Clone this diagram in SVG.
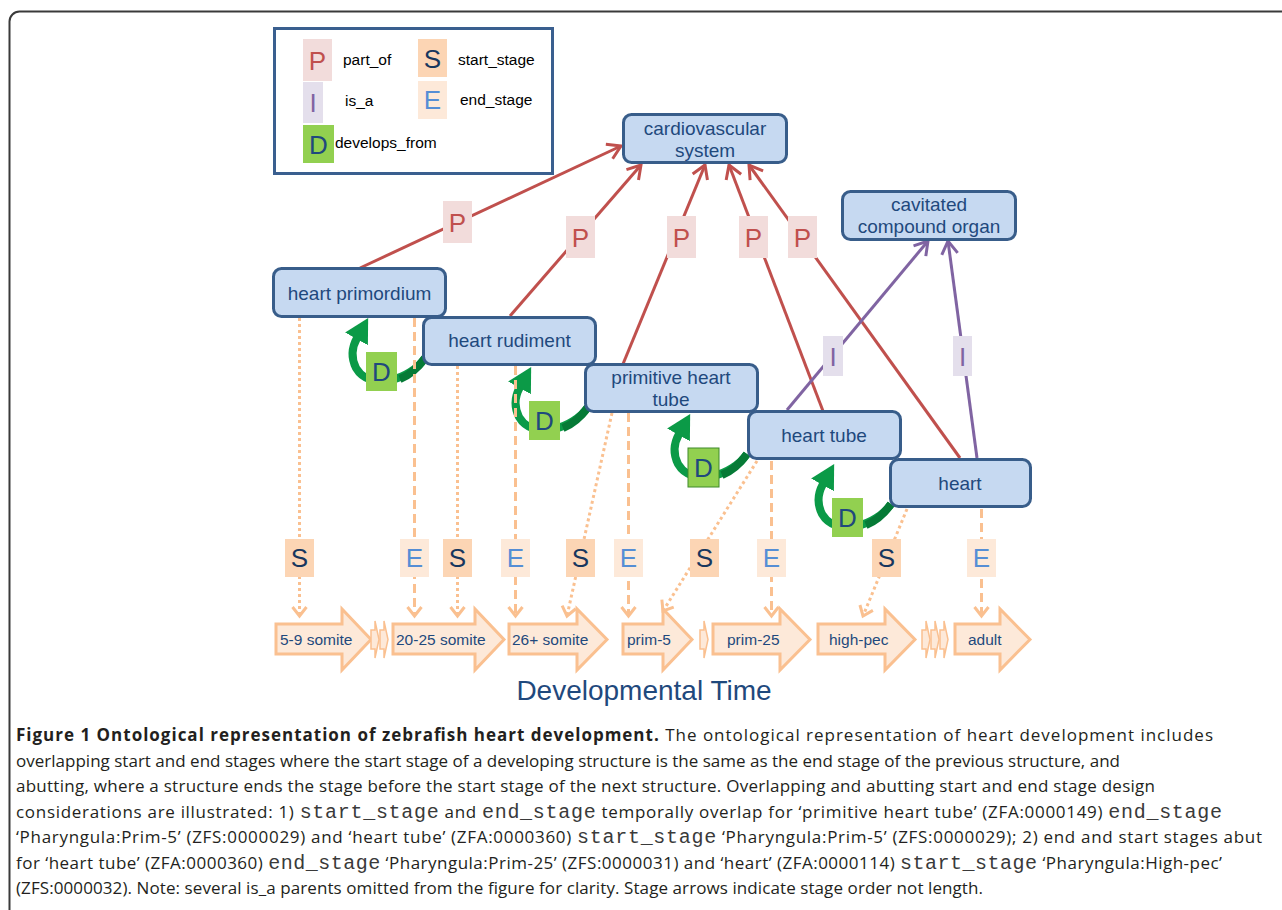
<svg xmlns="http://www.w3.org/2000/svg" width="1282" height="910" viewBox="0 0 1282 910">
<defs>
<style>
.sans{font-family:"Liberation Sans",Arial,sans-serif}
.node rect{fill:#c6d9f1;stroke:#385d8a;stroke-width:3}
.node text{font-family:"Liberation Sans",Arial,sans-serif;font-size:19px;fill:#1f497d;text-anchor:middle}
.po{stroke:#c0504d;stroke-width:3;fill:none;marker-end:url(#ar)}
.isa{stroke:#8064a2;stroke-width:3;fill:none;marker-end:url(#ap)}
.sl{stroke:#fac090;stroke-width:3;fill:none;stroke-dasharray:3 3;marker-end:url(#ao)}
.el{stroke:#fac090;stroke-width:3;fill:none;stroke-dasharray:9 5;marker-end:url(#ao)}
.dv{stroke:#0b9a47;stroke-width:8;fill:none;marker-end:url(#ag)}
.dvs{stroke:#067a36;stroke-width:8;fill:none}
.pb{fill:#f2dcdb}.pt{fill:#c0504d}
.ib{fill:#e4dfec}.it{fill:#8064a2}
.sb{fill:#fcd5b4}.st{fill:#17375e}
.eb{fill:#fde9d9}.et{fill:#558ed5}
.db{fill:#92d050}.dt{fill:#1f497d}
.let{font-family:"Liberation Sans",Arial,sans-serif;font-size:26px;text-anchor:middle}
.leg{font-family:"Liberation Sans",Arial,sans-serif;font-size:15.5px;fill:#000}
.stg polygon{fill:#fde9d9;stroke:#fac090;stroke-width:3}
.stg polygon.sm{stroke-width:1.5}
.stg text{font-family:"Liberation Sans",Arial,sans-serif;font-size:15.5px;fill:#1f497d}
.cap{font-family:"Open Sans","Noto Sans",sans-serif;font-size:17px;fill:#231f20}
.mono{font-family:"Liberation Mono",monospace;font-size:20px;fill:#3a3a3a}
</style>
<marker id="ar" markerUnits="userSpaceOnUse" markerWidth="22" markerHeight="24" viewBox="-17 -12 22 24" refX="0" refY="0" orient="auto"><polyline points="-13,-8 0,0 -13,8" fill="none" stroke="#c0504d" stroke-width="3"/></marker>
<marker id="ap" markerUnits="userSpaceOnUse" markerWidth="22" markerHeight="24" viewBox="-17 -12 22 24" refX="0" refY="0" orient="auto"><polyline points="-13,-8 0,0 -13,8" fill="none" stroke="#8064a2" stroke-width="3"/></marker>
<marker id="ao" markerUnits="userSpaceOnUse" markerWidth="16" markerHeight="20" viewBox="-12 -10 16 20" refX="0" refY="0" orient="auto"><polyline points="-9,-7 0,0 -9,7" fill="none" stroke="#fac090" stroke-width="3"/></marker>
<marker id="ag" markerUnits="userSpaceOnUse" markerWidth="25" markerHeight="28" viewBox="0 -14 25 28" refX="1" refY="0" orient="auto"><path d="M0,-13 L24,0 L0,13 z" fill="#0b9a47"/></marker>
</defs>
<rect x="9.5" y="11.5" width="1300" height="930" rx="10" fill="#fff" stroke="#3a3a3a" stroke-width="2"/>

<g id="legend">
<rect x="274.5" y="28.5" width="278" height="145" fill="#fff" stroke="#3a5f8f" stroke-width="3"/>
<rect class="pb" x="303" y="39" width="29" height="42"/><text class="let pt" x="317.5" y="70" font-size="27">P</text>
<text class="leg" x="343" y="65">part_of</text>
<rect class="ib" x="303" y="82" width="20" height="41"/><text class="let it" x="313" y="112" font-size="27">I</text>
<text class="leg" x="345" y="106">is_a</text>
<rect class="db" x="303" y="125" width="31" height="38"/><text class="let dt" x="318.5" y="154" font-size="27">D</text>
<text class="leg" x="335" y="148">develops_from</text>
<rect class="sb" x="418" y="39" width="29" height="38"/><text class="let st" x="432.5" y="68">S</text>
<text class="leg" x="458" y="65">start_stage</text>
<rect class="eb" x="418" y="81" width="29" height="38"/><text class="let et" x="432.5" y="109">E</text>
<text class="leg" x="460" y="105">end_stage</text>
</g>

<g id="stages" class="stg">
<polygon points="276,624 342,624 342,609 371,639.5 342,670 342,654 276,654"/>
<text x="280" y="645">5-9 somite</text>
<polygon class="sm" points="371,630 375,630 375,621 379,639.5 375,658 375,649 371,649"/>
<polygon class="sm" points="380,630 384,630 384,621 388,639.5 384,658 384,649 380,649"/>
<polygon points="393,624 475,624 475,609 504,639.5 475,670 475,654 393,654"/>
<text x="396" y="645">20-25 somite</text>
<polygon points="509,624 577,624 577,609 607,639.5 577,670 577,654 509,654"/>
<text x="512" y="645">26+ somite</text>
<polygon points="623,624 663,624 663,609 692,639.5 663,670 663,654 623,654"/>
<text x="627" y="645">prim-5</text>
<polygon class="sm" points="700,630 704,630 704,621 708,639.5 704,658 704,649 700,649"/>
<polygon points="713,624 780,624 780,609 810,639.5 780,670 780,654 713,654"/>
<text x="727" y="645">prim-25</text>
<polygon points="818,624 885,624 885,609 915,639.5 885,670 885,654 818,654"/>
<text x="829" y="645">high-pec</text>
<polygon class="sm" points="922,630 926,630 926,621 930,639.5 926,658 926,649 922,649"/>
<polygon class="sm" points="931,630 935,630 935,621 939,639.5 935,658 935,649 931,649"/>
<polygon class="sm" points="940,630 944,630 944,621 948,639.5 944,658 944,649 940,649"/>
<polygon points="955,624 1000,624 1000,609 1030,639.5 1000,670 1000,654 955,654"/>
<text x="968" y="645">adult</text>
</g>

<g id="connectors">
<path class="dv" d="M425,358 C410,380 370,392 356,368 C351,358 352,347 357,338"/>
<path class="dvs" d="M425,358 C418,368 410,375 400,379"/>
<g transform="translate(163,49)"><path class="dv" d="M425,358 C410,380 370,392 356,368 C351,358 352,347 357,338"/><path class="dvs" d="M425,358 C418,368 410,375 400,379"/></g>
<g transform="translate(322,96)"><path class="dv" d="M425,358 C410,380 370,392 356,368 C351,358 352,347 357,338"/><path class="dvs" d="M425,358 C418,368 410,375 400,379"/></g>
<g transform="translate(466,146)"><path class="dv" d="M425,358 C410,380 370,392 356,368 C351,358 352,347 357,338"/><path class="dvs" d="M425,358 C418,368 410,375 400,379"/></g>

<path class="sl" d="M299.5,318 L299.5,616"/>
<path class="el" d="M414.5,318 L414.5,616"/>
<path class="sl" d="M457.5,366 L457.5,616"/>
<path class="el" d="M515.5,366 L515.5,616"/>
<path class="sl" d="M612,413 L567,616"/>
<path class="el" d="M628.5,413 L628.5,616"/>
<path class="sl" d="M757,461 L663,611"/>
<path class="el" d="M771.5,461 L771.5,616"/>
<path class="sl" d="M907,509 L863,616"/>
<path class="el" d="M981.5,509 L981.5,616"/>

<path class="po" d="M360,268 L621,146"/>
<path class="po" d="M510,316 L641,165"/>
<path class="po" d="M623,364 L705,165"/>
<path class="po" d="M823,411 L729,165"/>
<path class="po" d="M960,458 L749,165"/>
<path class="isa" d="M787,410 L928,241"/>
<path class="isa" d="M977,458 L948,241"/>
</g>

<g id="labels">
<rect class="pb" x="443" y="201" width="29" height="42"/><text class="let pt" x="457.5" y="232" font-size="27">P</text>
<rect class="pb" x="566" y="216" width="29" height="42"/><text class="let pt" x="580.5" y="247" font-size="27">P</text>
<rect class="pb" x="667" y="216" width="29" height="42"/><text class="let pt" x="681.5" y="247" font-size="27">P</text>
<rect class="pb" x="739" y="216" width="29" height="42"/><text class="let pt" x="753.5" y="247" font-size="27">P</text>
<rect class="pb" x="788" y="216" width="29" height="42"/><text class="let pt" x="802.5" y="247" font-size="27">P</text>
<rect class="ib" x="823" y="336" width="20" height="40"/><text class="let it" x="833" y="366" font-size="27">I</text>
<rect class="ib" x="953" y="336" width="19" height="40"/><text class="let it" x="962.5" y="366" font-size="27">I</text>
<rect class="db" x="366" y="352" width="31" height="39"/><text class="let dt" x="381.5" y="381" font-size="27">D</text>
<rect class="db" x="529" y="401" width="31" height="39"/><text class="let dt" x="544.5" y="430" font-size="27">D</text>
<rect class="db" x="688" y="448" width="31" height="39" stroke="#3f8a2a" stroke-width="1"/><text class="let dt" x="703.5" y="477" font-size="27">D</text>
<rect class="db" x="832" y="498" width="31" height="39"/><text class="let dt" x="847.5" y="527" font-size="27">D</text>
<rect class="sb" x="285" y="539" width="29" height="38"/><text class="let st" x="299.5" y="567">S</text>
<rect class="eb" x="400" y="539" width="29" height="38"/><text class="let et" x="414.5" y="567">E</text>
<rect class="sb" x="443" y="539" width="29" height="38"/><text class="let st" x="457.5" y="567">S</text>
<rect class="eb" x="501" y="539" width="29" height="38"/><text class="let et" x="515.5" y="567">E</text>
<rect class="sb" x="566" y="539" width="29" height="38"/><text class="let st" x="580.5" y="567">S</text>
<rect class="eb" x="614" y="539" width="29" height="38"/><text class="let et" x="628.5" y="567">E</text>
<rect class="sb" x="690" y="539" width="29" height="38"/><text class="let st" x="704.5" y="567">S</text>
<rect class="eb" x="757" y="539" width="29" height="38"/><text class="let et" x="771.5" y="567">E</text>
<rect class="sb" x="872" y="539" width="29" height="38"/><text class="let st" x="886.5" y="567">S</text>
<rect class="eb" x="967" y="539" width="29" height="38"/><text class="let et" x="981.5" y="567">E</text>
</g>

<g id="cardiovascular-system" class="node"><rect x="623.5" y="114.5" width="163" height="48" rx="8"/><text x="705" y="135">cardiovascular</text><text x="705" y="157">system</text></g>
<g id="cavitated-compound-organ" class="node"><rect x="842.5" y="191.5" width="173" height="48" rx="8"/><text x="929" y="211">cavitated</text><text x="929" y="233">compound organ</text></g>
<g id="heart-primordium" class="node"><rect x="273.5" y="268.5" width="172" height="48" rx="8"/><text x="359.5" y="300">heart primordium</text></g>
<g id="heart-rudiment" class="node"><rect x="423.5" y="317.5" width="172" height="47" rx="8"/><text x="509.5" y="347">heart rudiment</text></g>
<g id="primitive-heart-tube" class="node"><rect x="585.5" y="364.5" width="172" height="47" rx="8"/><text x="671" y="384">primitive heart</text><text x="671" y="406">tube</text></g>
<g id="heart-tube" class="node"><rect x="748.5" y="411.5" width="152" height="47" rx="8"/><text x="824" y="442">heart tube</text></g>
<g id="heart" class="node"><rect x="890.5" y="459.5" width="140" height="47" rx="8"/><text x="960" y="490">heart</text></g>

<text class="sans" x="644" y="700" font-size="28" fill="#1f497d" text-anchor="middle">Developmental Time</text>

<g id="caption" class="cap">
<text x="16" y="741" textLength="1197"><tspan font-weight="bold">Figure 1 Ontological representation of zebrafish heart development.</tspan> The ontological representation of heart development includes</text>
<text x="16" y="767" textLength="1104">overlapping start and end stages where the start stage of a developing structure is the same as the end stage of the previous structure, and</text>
<text x="16" y="792" textLength="1139">abutting, where a structure ends the stage before the start stage of the next structure. Overlapping and abutting start and end stage design</text>
<text x="16" y="818" textLength="1206">considerations are illustrated: 1) <tspan class="mono">start_stage</tspan> and <tspan class="mono">end_stage</tspan> temporally overlap for ‘primitive heart tube’ (ZFA:0000149) <tspan class="mono">end_stage</tspan></text>
<text x="16" y="843" textLength="1246">‘Pharyngula:Prim-5’ (ZFS:0000029) and ‘heart tube’ (ZFA:0000360) <tspan class="mono">start_stage</tspan> ‘Pharyngula:Prim-5’ (ZFS:0000029); 2) end and start stages abut</text>
<text x="16" y="869" textLength="1206">for ‘heart tube’ (ZFA:0000360) <tspan class="mono">end_stage</tspan> ‘Pharyngula:Prim-25’ (ZFS:0000031) and ‘heart’ (ZFA:0000114) <tspan class="mono">start_stage</tspan> ‘Pharyngula:High-pec’</text>
<text x="16" y="894" textLength="967">(ZFS:0000032). Note: several is_a parents omitted from the figure for clarity. Stage arrows indicate stage order not length.</text>
</g>
</svg>
